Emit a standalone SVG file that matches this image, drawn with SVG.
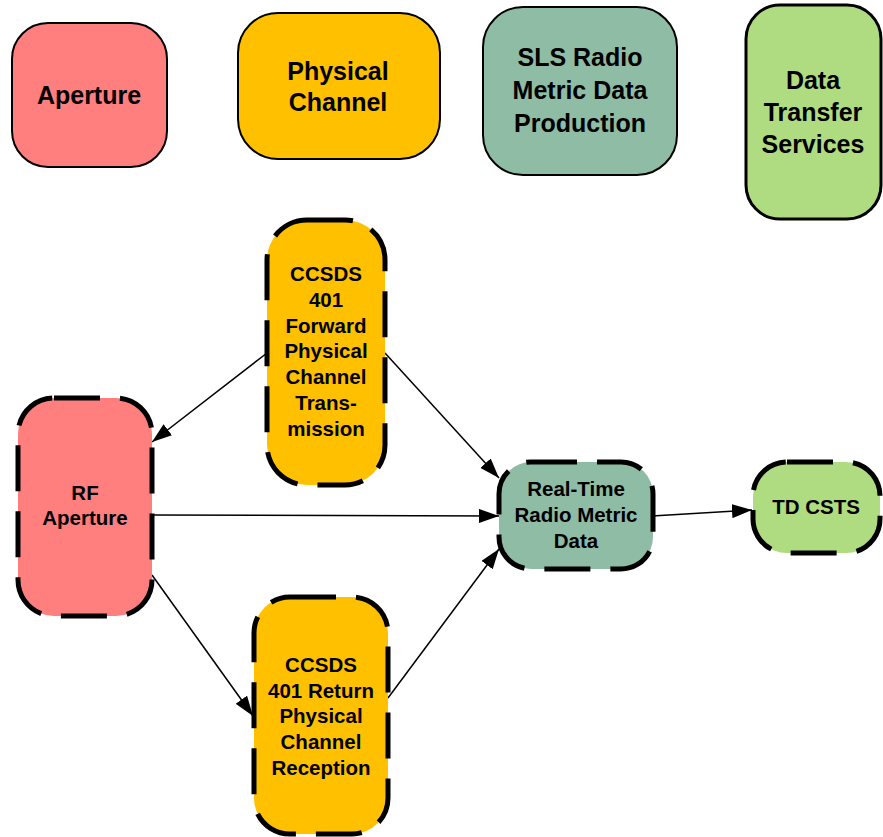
<svg xmlns="http://www.w3.org/2000/svg" width="883" height="837" viewBox="0 0 883 837">
<defs>
<style>
.t{font-family:"Liberation Sans",Arial,sans-serif;font-weight:bold;fill:#000;text-anchor:middle}
.big{font-size:25px}
.sm{font-size:20.5px}
.solid{stroke:#000;stroke-width:2}
.dash{stroke:#000;stroke-width:5;stroke-dasharray:46 20}
.edge{stroke:#000;stroke-width:1.5;fill:none;marker-end:url(#ah)}
</style>
<marker id="ah" viewBox="0 0 20 14" refX="20" refY="7" markerWidth="20" markerHeight="14" markerUnits="userSpaceOnUse" orient="auto">
<path d="M0,0 L20,7 L0,14 z" fill="#000"/>
</marker>
</defs>
<rect width="883" height="837" fill="#fff"/>

<g id="aperture">
<rect class="solid" x="12" y="23" width="155" height="144" rx="36" fill="#FF7F7F"/>
<text class="t big" x="89" y="104">Aperture</text>
</g>
<g id="physical-channel">
<rect class="solid" x="238" y="13" width="202" height="146" rx="40" fill="#FFC000"/>
<text class="t big" x="338" y="80">Physical</text>
<text class="t big" x="338" y="111">Channel</text>
</g>
<g id="sls-radio">
<rect class="solid" x="483" y="7" width="194" height="168" rx="40" fill="#8FBCA4"/>
<text class="t big" x="580" y="66">SLS Radio</text>
<text class="t big" x="580" y="99">Metric Data</text>
<text class="t big" x="580" y="132">Production</text>
</g>
<g id="data-transfer">
<rect x="746" y="5" width="135" height="214" rx="34" fill="#AFDC80" stroke="#000" stroke-width="3"/>
<text class="t big" x="813" y="89">Data</text>
<text class="t big" x="813" y="121">Transfer</text>
<text class="t big" x="813" y="153">Services</text>
</g>

<g id="connectors">
<line class="edge" x1="267" y1="353" x2="152" y2="442"/>
<line class="edge" x1="385" y1="353" x2="499" y2="478"/>
<line class="edge" x1="152" y1="515" x2="499" y2="516"/>
<line class="edge" x1="152" y1="575" x2="253" y2="716"/>
<line class="edge" x1="388" y1="698" x2="499" y2="549"/>
<line class="edge" x1="652" y1="516" x2="752" y2="510"/>
</g>

<g id="forward">
<rect class="dash" x="267" y="220" width="118" height="265" rx="40" fill="#FFC000"/>
<text class="t sm" x="326" y="281">CCSDS</text>
<text class="t sm" x="326" y="307">401</text>
<text class="t sm" x="326" y="333">Forward</text>
<text class="t sm" x="326" y="358">Physical</text>
<text class="t sm" x="326" y="384">Channel</text>
<text class="t sm" x="326" y="410">Trans-</text>
<text class="t sm" x="326" y="436">mission</text>
</g>
<g id="rf-aperture">
<rect class="dash" x="18" y="398" width="134" height="218" rx="36" fill="#FF7F7F"/>
<text class="t sm" x="85" y="500">RF</text>
<text class="t sm" x="85" y="525">Aperture</text>
</g>
<g id="real-time">
<rect class="dash" x="499" y="462" width="154" height="107" rx="32" fill="#8FBCA4"/>
<text class="t sm" x="576" y="496">Real-Time</text>
<text class="t sm" x="576" y="522">Radio Metric</text>
<text class="t sm" x="576" y="548">Data</text>
</g>
<g id="td-csts">
<rect class="dash" x="753" y="462" width="127" height="91" rx="34" fill="#AFDC80"/>
<text class="t sm" x="816" y="514">TD CSTS</text>
</g>
<g id="return">
<rect class="dash" x="254" y="597" width="134" height="237" rx="36" fill="#FFC000"/>
<text class="t sm" x="321" y="672">CCSDS</text>
<text class="t sm" x="321" y="698">401 Return</text>
<text class="t sm" x="321" y="723">Physical</text>
<text class="t sm" x="321" y="749">Channel</text>
<text class="t sm" x="321" y="775">Reception</text>
</g>
</svg>
